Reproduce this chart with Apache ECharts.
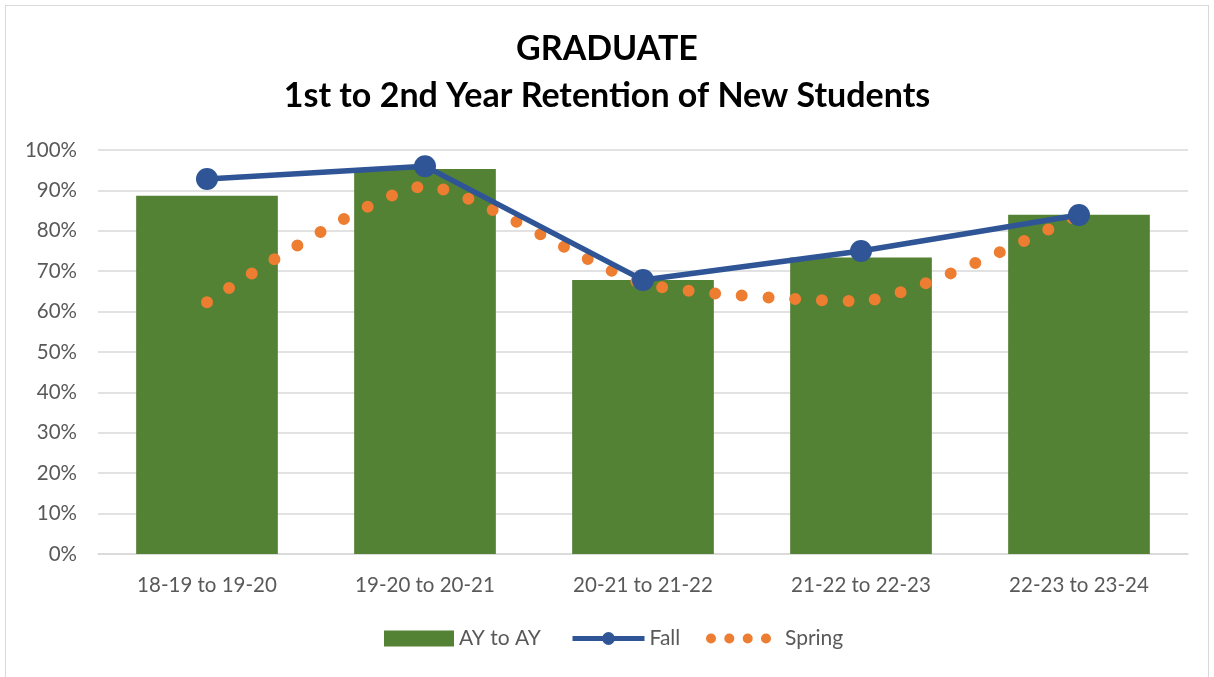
<!DOCTYPE html>
<html>
<head>
<meta charset="utf-8">
<script src="https://cdn.jsdelivr.net/npm/echarts@6/dist/echarts.min.js"></script>
<style>
html,body{margin:0;padding:0;background:#fff;}
#frame{position:absolute;left:5px;top:5px;width:1204px;height:690px;border:1px solid #d9d9d9;box-sizing:border-box;}
#chart{position:absolute;left:0;top:0;width:1214px;height:677px;}
</style>
</head>
<body>
<div id="frame"></div>
<div id="chart"></div>
<script>
const categories = ['18-19 to 19-20', '19-20 to 20-21', '20-21 to 21-22', '21-22 to 22-23', '22-23 to 23-24'];
const ayToAy = [88.7, 95.3, 67.8, 73.4, 84.0];
const fall = [92.8, 96.0, 67.8, 75.0, 83.9];
const spring = [62.3, 91.0, 67.0, 62.6, 84.0];
const yTicks = [0, 10, 20, 30, 40, 50, 60, 70, 80, 90, 100];

const FONT = 'Lato, "Open Sans", sans-serif';
const DOTS = 'path://M0,5a5,5 0 1,0 10,0a5,5 0 1,0 -10,0M18.3,5a5,5 0 1,0 10,0a5,5 0 1,0 -10,0M36.7,5a5,5 0 1,0 10,0a5,5 0 1,0 -10,0M55,5a5,5 0 1,0 10,0a5,5 0 1,0 -10,0';
const legendText = {fontFamily: FONT, fontSize: 21, color: '#595959'};
const chart = echarts.init(document.getElementById('chart'));
chart.setOption({
  animation: false,
  title: {
    text: 'GRADUATE\n1st to 2nd Year Retention of New Students',
    left: 'center',
    top: 21,
    textStyle: {fontFamily: FONT, fontSize: 34, fontWeight: 'bold', color: '#000', lineHeight: 47}
  },
  legend: [
    {
      left: 379, top: 623, itemWidth: 70, itemHeight: 16,
      textStyle: legendText,
      data: [{name: 'AY to AY', icon: 'rect'}]
    },
    {
      left: 565, top: 623, itemWidth: 72, itemHeight: 16,
      textStyle: legendText,
      data: [{name: 'Fall', lineStyle: {width: 5}}]
    },
    {
      left: 701, top: 623, itemWidth: 65, itemHeight: 10,
      textStyle: Object.assign({padding: [0, 0, 0, 9]}, legendText),
      data: [{name: 'Spring', icon: DOTS, itemStyle: {color: '#ED7D31'}}]
    }
  ],
  grid: {left: 98, right: 26, top: 150, bottom: 123, containLabel: false},
  xAxis: {
    type: 'category',
    data: categories,
    axisLine: {lineStyle: {color: '#d9d9d9', width: 1.5}},
    axisTick: {show: false},
    axisLabel: {fontFamily: FONT, fontSize: 20.5, color: '#595959', margin: 21}
  },
  yAxis: {
    type: 'value',
    min: yTicks[0],
    max: yTicks[yTicks.length - 1],
    interval: 10,
    axisLine: {show: false},
    axisTick: {show: false},
    splitLine: {lineStyle: {color: '#d9d9d9', width: 1.5}},
    axisLabel: {fontFamily: FONT, fontSize: 20.5, color: '#595959', margin: 21, formatter: v => v + '%'}
  },
  series: [
    {
      name: 'AY to AY',
      type: 'bar',
      data: ayToAy,
      barWidth: '65%',
      itemStyle: {color: '#548235'},
      z: 1
    },
    {
      name: 'Spring',
      type: 'line',
      data: spring,
      smooth: 0.2,
      showSymbol: false,
      symbol: 'none',
      lineStyle: {color: '#ED7D31', width: 12, type: [0, 26.7], cap: 'round'},
      itemStyle: {color: '#ED7D31'},
      z: 3
    },
    {
      name: 'Fall',
      type: 'line',
      data: fall,
      symbol: 'circle',
      symbolSize: 22,
      lineStyle: {color: '#2F5597', width: 5.5},
      itemStyle: {color: '#2F5597'},
      z: 4
    }
  ]
});
</script>
</body>
</html>
